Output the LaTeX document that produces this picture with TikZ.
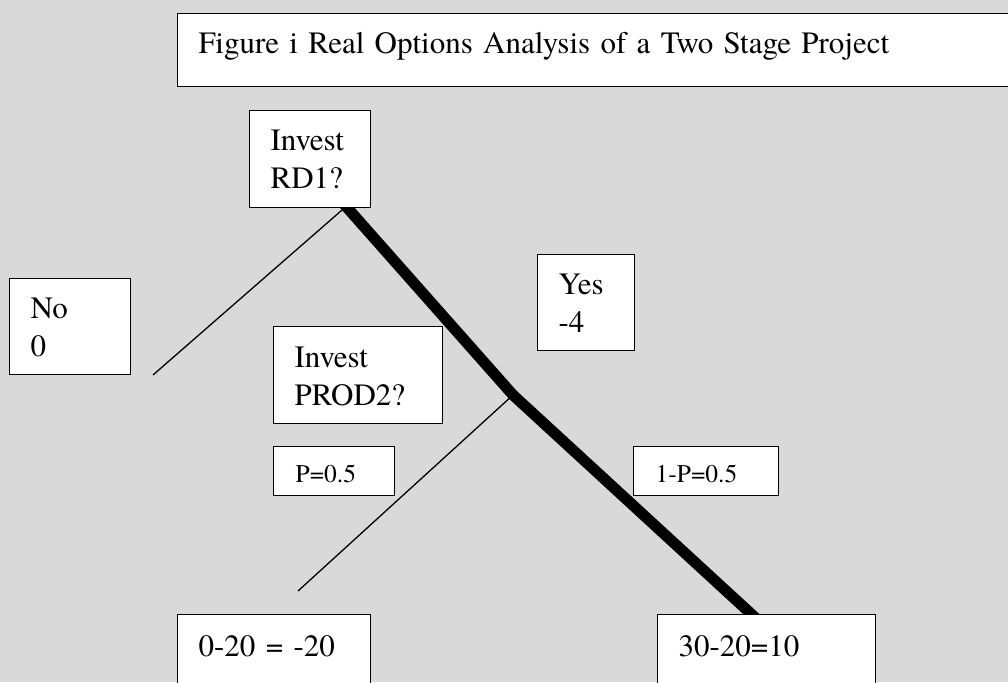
\documentclass[tikz,border=0pt]{standalone}
\usepackage{fontspec}
\setmainfont{texgyretermes}[Extension=.otf, UprightFont=*-regular, BoldFont=*-bold, ItalicFont=*-italic, BoldItalicFont=*-bolditalic]
\usetikzlibrary{calc}
\pgfdeclarelayer{background}
\pgfsetlayers{background,main}
\definecolor{paneGray}{RGB}{217,217,217}
\tikzset{
  optbox/.style={draw, line width=1.2pt, fill=white, anchor=north west, align=left,
    inner xsep=21pt, inner ysep=0pt, text height=40pt, font=\fontsize{31}{38}\selectfont},
  probbox/.style={optbox, inner xsep=22pt, text height=36pt, text depth=13pt,
    font=\fontsize{25.5}{30}\selectfont},
  branch/.style={line width=1.3pt},
  chosen/.style={line width=11pt},
}

\begin{document}
\begin{tikzpicture}[x=1pt, y=-1pt]
    \useasboundingbox (0,0) rectangle (1008,682);
    \clip (0,0) rectangle (1008,682);
    % boxes
    \node[optbox, text width=801pt, text depth=33pt] (title) at (177,13) {Figure i Real Options Analysis of a Two Stage Project};
    \node[optbox, text width=79pt, text depth=57pt] (rd1) at (249,110) {Invest\\RD1?};
    \node[optbox, text width=79pt, text depth=56pt] (no) at (9,278) {No\\0};
    \node[optbox, text width=55pt, text depth=56pt] (yes) at (537,254) {Yes\\-4};
    \node[optbox, text width=127pt, text height=41pt, text depth=56pt] (prod2) at (273,326) {Invest\\PROD2?};
    \node[probbox, text width=77pt] (p) at (273,446) {P=0.5};
    \node[probbox, text width=101pt] (q) at (633,446) {1-P=0.5};
    \node[optbox, text width=151pt, text height=42pt, text depth=58pt] (fail) at (177,614) {0-20 = -20};
    \node[optbox, text width=176pt, text height=42pt, text depth=58pt] (success) at (657,614) {30-20=10};
    % tree lines, under the boxes
    \begin{pgfonlayer}{background}
        \fill[paneGray] (0,0) rectangle (1008,682);
        \coordinate (split) at (513,395);
        \coordinate (no end) at (153,375);
        \coordinate (fail end) at (298,591);
        \draw[branch] ([xshift=34pt]rd1.south) -- (no end);
        \draw[branch] (split) -- (fail end);
        \draw[chosen] ([xshift=34pt,yshift=4pt]rd1.south) -- (split) -- ([xshift=-11pt,yshift=-4pt]success.north);
    \end{pgfonlayer}
\end{tikzpicture}
\end{document}
